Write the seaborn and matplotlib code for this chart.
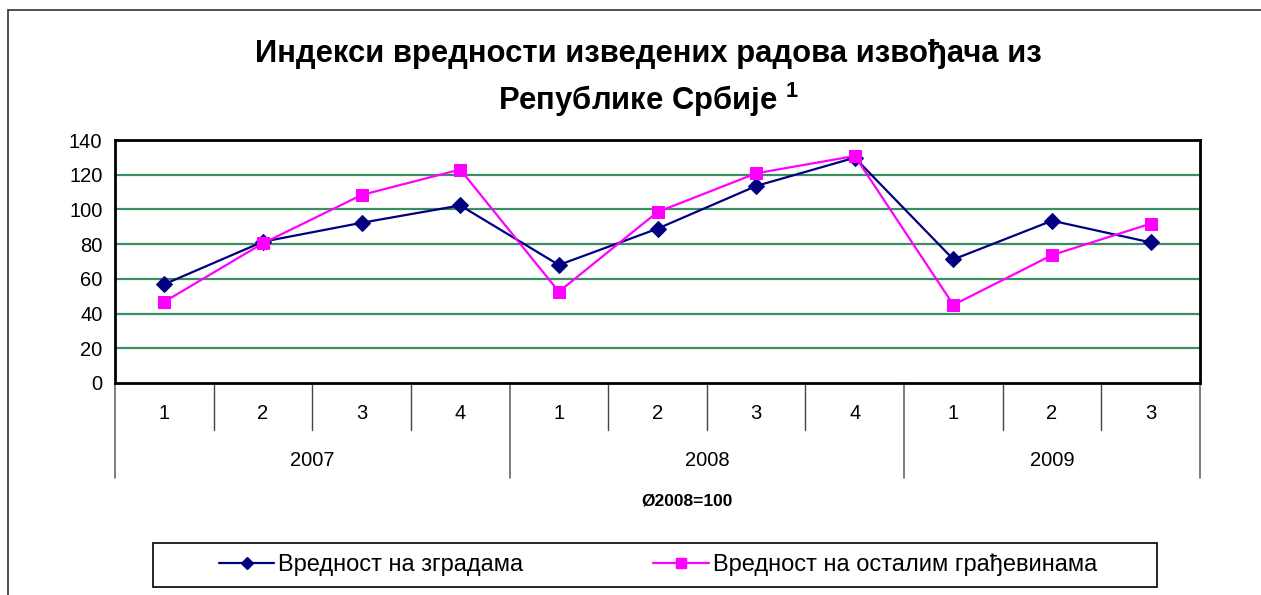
import matplotlib
matplotlib.use("Agg")
import matplotlib.pyplot as plt
from matplotlib.lines import Line2D
from matplotlib.patches import Rectangle
import seaborn as sns
import pandas as pd
import numpy as np

# ---- data ----
years = ["2007", "2008", "2009"]
quarters = ["1", "2", "3", "4", "1", "2", "3", "4", "1", "2", "3"]
quarter_year = ["2007"] * 4 + ["2008"] * 4 + ["2009"] * 3
zgrade = [56.9, 81.4, 92.3, 102.3, 68.0, 88.9, 113.5, 129.8, 71.2, 93.5, 81.0]
ostale = [46.8, 80.5, 108.3, 123.0, 52.6, 98.5, 120.8, 130.8, 45.0, 73.7, 91.8]
series_names = ["Вредност на зградама", "Вредност на осталим грађевинама"]
title = "Индекси вредности изведених радова извођача из\nРепублике Србије $^{\\mathbf{1}}$"
note = "Ø2008=100"
y_ticks = [0, 20, 40, 60, 80, 100, 120, 140]

sns.set_style("white")
plt.rcParams["font.family"] = ["Liberation Sans", "DejaVu Sans"]
plt.rcParams["text.color"] = "black"
plt.rcParams["axes.labelcolor"] = "black"
plt.rcParams["xtick.color"] = "black"
plt.rcParams["ytick.color"] = "black"
plt.rcParams["mathtext.fontset"] = "custom"
plt.rcParams["mathtext.bf"] = "Liberation Sans:bold"
plt.rcParams["mathtext.rm"] = "Liberation Sans"

W, H = 1261, 595
fig = plt.figure(figsize=(W / 100, H / 100), dpi=100)

def fx(px):
    return px / W

def fy(py):
    return 1 - py / H

L, R, T, B = 115, 1200, 140, 383
ax = fig.add_axes([fx(L), fy(B), fx(R) - fx(L), fy(T) - fy(B)])

n = len(quarters)
xs = np.arange(n)
df = pd.DataFrame({
    "x": np.concatenate([xs, xs]),
    "value": zgrade + ostale,
    "series": [series_names[0]] * n + [series_names[1]] * n,
})

colors = {series_names[0]: "#000080", series_names[1]: "#FF00FF"}
markers = {series_names[0]: "D", series_names[1]: "s"}

for name in series_names:
    sub = df[df["series"] == name]
    sns.lineplot(data=sub, x="x", y="value", ax=ax, color=colors[name],
                 marker=markers[name], markersize=9 if markers[name] == "s" else 8,
                 markeredgecolor=colors[name], linewidth=1.6, legend=False, zorder=3)

ax.set_xlim(-0.5, n - 0.5)
ax.set_ylim(0, 140)
ax.set_yticks(y_ticks)
ax.set_yticklabels([str(v) for v in y_ticks], fontsize=14.5, color="black")
ax.tick_params(axis="y", direction="out", length=5, width=1, color="#555555", pad=4)
ax.set_xticks([])
ax.set_xlabel("")
ax.set_ylabel("")

for v in y_ticks[1:-1]:
    ax.axhline(v, color="#3A8F60", linewidth=1.6, zorder=1)

for s in ["left", "top", "right", "bottom"]:
    ax.spines[s].set_color("black")
    ax.spines[s].set_linewidth(2)

# multi-level category axis
trans = ax.get_xaxis_transform()
for i, q in enumerate(quarters):
    ax.text(i, -0.125, q, transform=trans, ha="center", va="center", fontsize=14.5)
year_bounds = [-0.5, 3.5, 7.5, n - 0.5]
for b in np.arange(-0.5, n, 1.0):
    if b in year_bounds:
        ax.plot([b, b], [0, -0.39], transform=trans, color="#666666", lw=1.2, clip_on=False)
    else:
        ax.plot([b, b], [0, -0.195], transform=trans, color="#444444", lw=1.0, clip_on=False)
for k, y in enumerate(years):
    c = (year_bounds[k] + year_bounds[k + 1]) / 2
    ax.text(c, -0.32, y, transform=trans, ha="center", va="center", fontsize=14.5)

fig.text(fx(648), fy(79), title, ha="center", va="center", fontsize=22.3,
         fontweight="bold", linespacing=1.42)
fig.text(fx(687), fy(501), note, ha="center", va="center", fontsize=12.5, fontweight="bold")

# legend
handles = [Line2D([], [], color=colors[nm], marker=markers[nm],
                  markersize=6 if markers[nm] == "D" else 7,
                  markeredgecolor=colors[nm], linewidth=1.6) for nm in series_names]
fig.legend(handles, series_names, loc="center", bbox_to_anchor=(fx(658), fy(565)),
           ncol=2, frameon=False, fontsize=17, handlelength=2.35, handletextpad=0.17,
           columnspacing=5.5)
fig.add_artist(Rectangle((fx(153), fy(587)), fx(1157) - fx(153), fy(543) - fy(587),
                         transform=fig.transFigure, fill=False, edgecolor="black", lw=1.2))

# outer chart border (left and top only visible)
fig.add_artist(Line2D([fx(8), fx(8)], [fy(10), 0], transform=fig.transFigure,
                      color="#333333", lw=1.2))
fig.add_artist(Line2D([fx(8), 1], [fy(10), fy(10)], transform=fig.transFigure,
                      color="#333333", lw=1.2))

fig.savefig("out.png", dpi=100, facecolor="white")
